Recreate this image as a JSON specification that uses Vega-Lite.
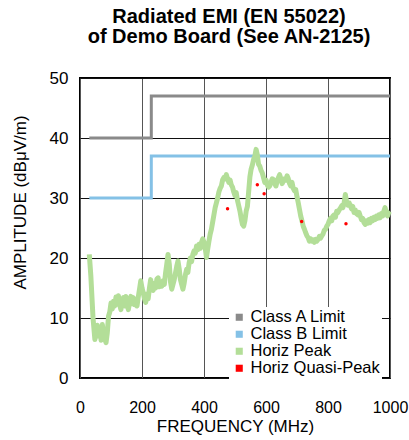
{
  "$schema": "https://vega.github.io/schema/vega-lite/v6.json",
  "width": 310,
  "height": 300,
  "autosize": {"type": "none"},
  "padding": {"left": 80, "top": 78, "right": 19, "bottom": 62},
  "background": "white",
  "title": {
    "text": ["Radiated EMI (EN 55022)", "of Demo Board (See AN-2125)"],
    "fontSize": 20,
    "fontWeight": "bold",
    "lineHeight": 20,
    "offset": 22,
    "anchor": "middle",
    "dx": -6,
    "color": "black"
  },
  "config": {
    "font": "Liberation Sans",
    "view": {"stroke": "black", "strokeWidth": 2},
    "legend": {"labelFontSize": 16.5, "labelColor": "black"}
  },
  "datasets": {
    "limits": [
      {"series": "Class A Limit", "freq": 30, "amp": 40},
      {"series": "Class A Limit", "freq": 230, "amp": 47},
      {"series": "Class A Limit", "freq": 1000, "amp": 47},
      {"series": "Class B Limit", "freq": 30, "amp": 30},
      {"series": "Class B Limit", "freq": 230, "amp": 37},
      {"series": "Class B Limit", "freq": 1000, "amp": 37}
    ],
    "peak": [
      {"freq":30,"amp":20.6},{"freq":35,"amp":17},{"freq":42,"amp":10},{"freq":48,"amp":6.4},{"freq":52,"amp":7.5},{"freq":56,"amp":8.8},{"freq":60,"amp":7},{"freq":64,"amp":8.2},{"freq":68,"amp":6.3},{"freq":72,"amp":8.9},{"freq":76,"amp":7.5},{"freq":80,"amp":6.5},{"freq":84,"amp":5.9},{"freq":88,"amp":7.5},{"freq":92,"amp":10.3},{"freq":96,"amp":11},{"freq":100,"amp":12.5},{"freq":104,"amp":11.5},{"freq":108,"amp":12.8},{"freq":112,"amp":12},{"freq":116,"amp":13.5},{"freq":120,"amp":12.3},{"freq":124,"amp":13.7},{"freq":128,"amp":12.2},{"freq":132,"amp":11.4},{"freq":136,"amp":12.8},{"freq":140,"amp":13.4},{"freq":144,"amp":12},{"freq":148,"amp":13.6},{"freq":152,"amp":12.2},{"freq":156,"amp":11.4},{"freq":160,"amp":12.6},{"freq":164,"amp":13.6},{"freq":168,"amp":12.4},{"freq":172,"amp":13.4},{"freq":176,"amp":12.2},{"freq":180,"amp":12.8},{"freq":184,"amp":12},{"freq":188,"amp":13.5},{"freq":192,"amp":14.8},{"freq":196,"amp":16.2},{"freq":200,"amp":15},{"freq":204,"amp":14.2},{"freq":208,"amp":13.2},{"freq":212,"amp":12.6},{"freq":216,"amp":14},{"freq":220,"amp":13.2},{"freq":224,"amp":15},{"freq":228,"amp":16.4},{"freq":232,"amp":15.2},{"freq":236,"amp":14.6},{"freq":240,"amp":15.8},{"freq":244,"amp":15},{"freq":248,"amp":16.5},{"freq":252,"amp":16.7},{"freq":256,"amp":15.2},{"freq":260,"amp":15.8},{"freq":264,"amp":15.3},{"freq":268,"amp":16.2},{"freq":272,"amp":15.6},{"freq":276,"amp":17.5},{"freq":280,"amp":19},{"freq":284,"amp":20.6},{"freq":288,"amp":19},{"freq":292,"amp":16},{"freq":296,"amp":14.8},{"freq":300,"amp":15.6},{"freq":304,"amp":16.4},{"freq":308,"amp":17.5},{"freq":312,"amp":18.6},{"freq":316,"amp":19.5},{"freq":320,"amp":18.2},{"freq":324,"amp":16.4},{"freq":328,"amp":15.6},{"freq":332,"amp":14.8},{"freq":336,"amp":15.8},{"freq":340,"amp":17.2},{"freq":344,"amp":18.1},{"freq":348,"amp":17.6},{"freq":352,"amp":19.2},{"freq":356,"amp":20},{"freq":360,"amp":19.4},{"freq":364,"amp":20.6},{"freq":368,"amp":21.2},{"freq":372,"amp":20.8},{"freq":376,"amp":22},{"freq":380,"amp":21.4},{"freq":384,"amp":22.3},{"freq":388,"amp":21.6},{"freq":392,"amp":22.6},{"freq":396,"amp":23.2},{"freq":400,"amp":22.6},{"freq":404,"amp":21.6},{"freq":408,"amp":20.1},{"freq":412,"amp":21.5},{"freq":416,"amp":22.8},{"freq":420,"amp":24},{"freq":424,"amp":24.8},{"freq":428,"amp":26},{"freq":432,"amp":27.2},{"freq":436,"amp":28.4},{"freq":440,"amp":29.2},{"freq":444,"amp":30},{"freq":448,"amp":31},{"freq":452,"amp":31.6},{"freq":456,"amp":32},{"freq":460,"amp":33},{"freq":464,"amp":33.4},{"freq":468,"amp":33.2},{"freq":472,"amp":33.9},{"freq":476,"amp":33.2},{"freq":480,"amp":32.6},{"freq":484,"amp":33},{"freq":488,"amp":32.2},{"freq":492,"amp":31.8},{"freq":496,"amp":31},{"freq":500,"amp":30.4},{"freq":504,"amp":30.9},{"freq":508,"amp":29.6},{"freq":512,"amp":28.7},{"freq":516,"amp":27.8},{"freq":520,"amp":26.6},{"freq":524,"amp":25.6},{"freq":528,"amp":25.3},{"freq":532,"amp":26.2},{"freq":536,"amp":27.8},{"freq":540,"amp":28.6},{"freq":544,"amp":31},{"freq":548,"amp":33.5},{"freq":552,"amp":34.8},{"freq":556,"amp":35.5},{"freq":560,"amp":36.4},{"freq":564,"amp":37},{"freq":568,"amp":38.1},{"freq":572,"amp":37.2},{"freq":576,"amp":35.6},{"freq":580,"amp":35.3},{"freq":584,"amp":34.6},{"freq":588,"amp":34.2},{"freq":592,"amp":33.4},{"freq":596,"amp":32.6},{"freq":600,"amp":33},{"freq":604,"amp":32.2},{"freq":608,"amp":31.8},{"freq":612,"amp":32},{"freq":616,"amp":32.6},{"freq":620,"amp":33.2},{"freq":624,"amp":33.1},{"freq":628,"amp":32.4},{"freq":632,"amp":32},{"freq":636,"amp":32.8},{"freq":640,"amp":33.4},{"freq":644,"amp":33.9},{"freq":648,"amp":33.2},{"freq":652,"amp":32.4},{"freq":656,"amp":32.8},{"freq":660,"amp":33.2},{"freq":664,"amp":33},{"freq":668,"amp":33.7},{"freq":672,"amp":33.2},{"freq":676,"amp":32.4},{"freq":680,"amp":32},{"freq":684,"amp":32.6},{"freq":688,"amp":31.6},{"freq":692,"amp":31.2},{"freq":696,"amp":31.4},{"freq":700,"amp":30.2},{"freq":704,"amp":29.2},{"freq":708,"amp":28.1},{"freq":712,"amp":27},{"freq":716,"amp":26.2},{"freq":720,"amp":25.3},{"freq":724,"amp":24.8},{"freq":728,"amp":24.2},{"freq":732,"amp":23.7},{"freq":736,"amp":23.4},{"freq":740,"amp":22.8},{"freq":744,"amp":23.2},{"freq":748,"amp":22.8},{"freq":752,"amp":23},{"freq":756,"amp":22.6},{"freq":760,"amp":23.1},{"freq":764,"amp":22.8},{"freq":768,"amp":23.1},{"freq":772,"amp":23.6},{"freq":776,"amp":23.3},{"freq":780,"amp":23.7},{"freq":784,"amp":24},{"freq":788,"amp":24.6},{"freq":792,"amp":24.8},{"freq":796,"amp":25.3},{"freq":800,"amp":25.6},{"freq":804,"amp":26.2},{"freq":808,"amp":26.6},{"freq":812,"amp":26.2},{"freq":816,"amp":27},{"freq":820,"amp":27.2},{"freq":824,"amp":26.8},{"freq":828,"amp":27.8},{"freq":832,"amp":27.6},{"freq":836,"amp":28},{"freq":840,"amp":28.3},{"freq":844,"amp":28.7},{"freq":848,"amp":28.4},{"freq":852,"amp":29.2},{"freq":856,"amp":30.6},{"freq":860,"amp":29.4},{"freq":864,"amp":28.8},{"freq":868,"amp":29.2},{"freq":872,"amp":28.7},{"freq":876,"amp":28.2},{"freq":880,"amp":28.6},{"freq":884,"amp":27.6},{"freq":888,"amp":28},{"freq":892,"amp":27.4},{"freq":896,"amp":27.2},{"freq":900,"amp":27.6},{"freq":904,"amp":27},{"freq":908,"amp":26.4},{"freq":912,"amp":26.6},{"freq":916,"amp":25.9},{"freq":920,"amp":25.6},{"freq":924,"amp":26.2},{"freq":928,"amp":25.8},{"freq":932,"amp":26.4},{"freq":936,"amp":25.9},{"freq":940,"amp":26.6},{"freq":944,"amp":26.2},{"freq":948,"amp":26.8},{"freq":952,"amp":26.4},{"freq":956,"amp":27},{"freq":960,"amp":26.6},{"freq":964,"amp":27.2},{"freq":968,"amp":26.7},{"freq":972,"amp":27.4},{"freq":976,"amp":27},{"freq":980,"amp":27.8},{"freq":984,"amp":28.4},{"freq":988,"amp":27.6},{"freq":992,"amp":27},{"freq":996,"amp":27.6},{"freq":1000,"amp":27.8}
    ],
    "qp": [
      {"freq": 476, "amp": 28.2},
      {"freq": 572, "amp": 32.2},
      {"freq": 594, "amp": 30.7},
      {"freq": 715, "amp": 26.1},
      {"freq": 858, "amp": 25.7}
    ]
  },
  "encoding": {
    "x": {
      "field": "freq",
      "type": "quantitative",
      "scale": {"domain": [0, 1000], "nice": false},
      "axis": {
        "title": "FREQUENCY (MHz)",
        "values": [0, 200, 400, 600, 800, 1000],
        "format": "d",
        "grid": true,
        "gridColor": "#555555",
        "gridOpacity": 1,
        "ticks": false,
        "domain": false,
        "labelPadding": 21,
        "labelFontSize": 16,
        "labelColor": "black",
        "labelFlush": false,
        "titleFontSize": 17,
        "titleFontWeight": "normal",
        "titleColor": "black",
        "titlePadding": 3
      }
    },
    "y": {
      "field": "amp",
      "type": "quantitative",
      "scale": {"domain": [0, 50], "nice": false},
      "axis": {
        "title": "AMPLITUDE (dBμV/m)",
        "values": [0, 10, 20, 30, 40, 50],
        "format": "d",
        "grid": true,
        "gridColor": "#111111",
        "gridOpacity": 1,
        "ticks": false,
        "domain": false,
        "labelPadding": 12,
        "labelFontSize": 17,
        "labelColor": "black",
        "labelFlush": false,
        "titleFontSize": 17,
        "titleFontWeight": "normal",
        "titleColor": "black",
        "titleBaseline": "bottom",
        "titleX": -51,
        "titleY": 124
      }
    }
  },
  "layer": [
    {
      "data": {"name": "limits"},
      "mark": {"type": "line", "interpolate": "step-after", "strokeWidth": 3},
      "encoding": {
        "color": {
          "field": "series",
          "type": "nominal",
          "scale": {
            "domain": ["Class A Limit", "Class B Limit", "Horiz Peak", "Horiz Quasi-Peak"],
            "range": ["#8a8a8a", "#84c1e6", "#b3de98", "#ff0000"]
          },
          "legend": {
            "title": null,
            "orient": "none",
            "legendX": 149,
            "legendY": 229,
            "padding": 2,
            "fillColor": "white",
            "symbolType": "square",
            "symbolSize": 50,
            "symbolStrokeWidth": 0,
            "labelFontSize": 16.5,
            "labelColor": "black",
            "labelOffset": 3,
            "rowPadding": 0,
            "encode": {
              "symbols": {
                "update": {
                  "fill": {"scale": "color", "field": "value"},
                  "stroke": {"value": "transparent"},
                  "opacity": {"value": 1}
                }
              }
            }
          }
        }
      }
    },
    {
      "data": {"name": "peak"},
      "mark": {"type": "line", "strokeWidth": 5, "strokeJoin": "round"},
      "encoding": {
        "color": {"datum": "Horiz Peak", "type": "nominal"}
      }
    },
    {
      "data": {"name": "qp"},
      "mark": {"type": "circle", "size": 12, "opacity": 1},
      "encoding": {
        "color": {"datum": "Horiz Quasi-Peak", "type": "nominal"}
      }
    }
  ]
}
